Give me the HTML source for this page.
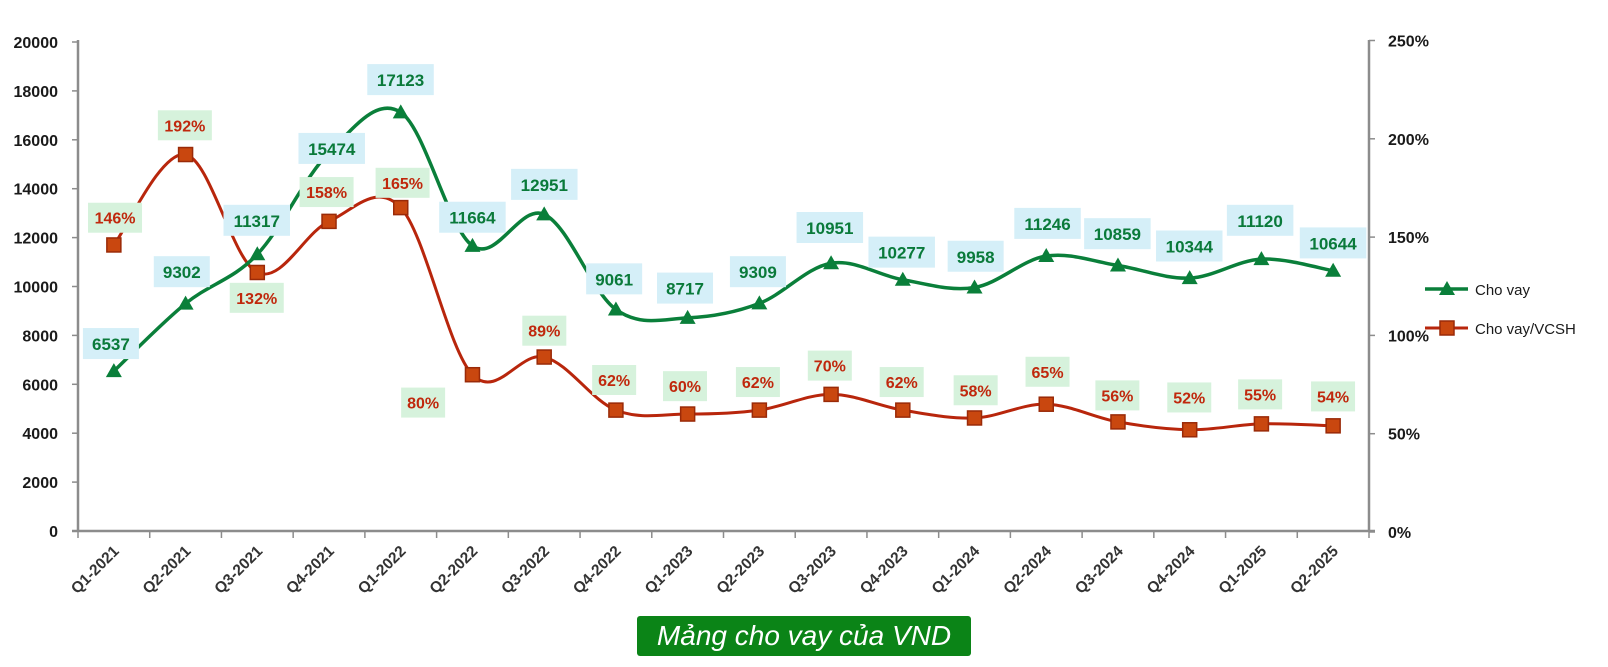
<!DOCTYPE html>
<html><head><meta charset="utf-8"><style>
html,body{margin:0;padding:0;background:#fff;}
svg{display:block;font-family:"Liberation Sans",sans-serif;}
</style></head><body>
<svg id="c" width="1608" height="667" xmlns="http://www.w3.org/2000/svg"></svg>
<script>
const svg=document.getElementById('c');
const X0=78,X1=1369,N=18,cw=(X1-X0)/N;
const cx=i=>X0+(i+0.5)*cw;
const yL=v=>531-v*0.02445;
const yR=p=>532-p*1.966;
const vals=[6537,9302,11317,15474,17123,11664,12951,9061,8717,9309,10951,10277,9958,11246,10859,10344,11120,10644];
const pcts=[146,192,132,158,165,80,89,62,60,62,70,62,58,65,56,52,55,54];
const cats=['Q1-2021','Q2-2021','Q3-2021','Q4-2021','Q1-2022','Q2-2022','Q3-2022','Q4-2022','Q1-2023','Q2-2023','Q3-2023','Q4-2023','Q1-2024','Q2-2024','Q3-2024','Q4-2024','Q1-2025','Q2-2025'];
let h='';
h+=`<line x1="${X0}" y1="40" x2="${X0}" y2="532" stroke="#8c8c8c" stroke-width="2.5"/>`;
h+=`<line x1="${X1}" y1="40" x2="${X1}" y2="532" stroke="#8c8c8c" stroke-width="2.5"/>`;
h+=`<line x1="${X0-6}" y1="531" x2="${X1+6}" y2="531" stroke="#8c8c8c" stroke-width="2.5"/>`;
for(let v=0;v<=20000;v+=2000){const y=yL(v);h+=`<line x1="${X0-6}" y1="${y}" x2="${X0}" y2="${y}" stroke="#8c8c8c" stroke-width="1.5"/><text x="58" y="${y+6}" text-anchor="end" font-size="16" font-weight="bold" fill="#1a1a1a">${v}</text>`;}
for(let p=0;p<=250;p+=50){const y=yR(p);h+=`<line x1="${X1}" y1="${y}" x2="${X1+6}" y2="${y}" stroke="#8c8c8c" stroke-width="1.5"/><text x="1388" y="${y+6}" font-size="16" font-weight="bold" fill="#1a1a1a">${p}%</text>`;}
for(let i=0;i<=N;i++){const x=X0+i*cw;h+=`<line x1="${x}" y1="531" x2="${x}" y2="538" stroke="#8c8c8c" stroke-width="1.5"/>`;}
cats.forEach((c,i)=>{const x=cx(i)+6,y=552;h+=`<text x="${x}" y="${y}" text-anchor="end" font-size="15.5" font-weight="bold" fill="#333" transform="rotate(-45 ${x} ${y})">${c}</text>`;});
function smooth(pts){let d=`M${pts[0][0]},${pts[0][1]}`;for(let i=0;i<pts.length-1;i++){const p0=pts[i-1]||pts[i],p1=pts[i],p2=pts[i+1],p3=pts[i+2]||p2;const t=0.17;const c1=[p1[0]+(p2[0]-p0[0])*t,p1[1]+(p2[1]-p0[1])*t],c2=[p2[0]-(p3[0]-p1[0])*t,p2[1]-(p3[1]-p1[1])*t];d+=` C${c1[0]},${c1[1]} ${c2[0]},${c2[1]} ${p2[0]},${p2[1]}`;}return d;}
const gp=vals.map((v,i)=>[cx(i),yL(v)]),rp=pcts.map((p,i)=>[cx(i),yR(p)]);
h+=`<path d="${smooth(rp)}" fill="none" stroke="#b8260c" stroke-width="3"/>`;
h+=`<path d="${smooth(gp)}" fill="none" stroke="#0a7f3a" stroke-width="3.5"/>`;
rp.forEach(p=>{h+=`<rect x="${p[0]-7}" y="${p[1]-7}" width="14" height="14" fill="#c9470f" stroke="#9a2a08" stroke-width="1.5"/>`;});
gp.forEach(p=>{h+=`<polygon points="${p[0]},${p[1]-8} ${p[0]+8},${p[1]+6} ${p[0]-8},${p[1]+6}" fill="#0a7f3a"/>`;});
const s=1.027;
const gl=[[108,335],[177,265],[250,215],[323,145],[390,78],[460,212],[530,180],[598,272],[667,281],[738,265],[808,222],[878,246],[950,250],[1020,218],[1088,228],[1158,240],[1227,215],[1298,237]];
const rl=[[112,212],[180,122],[250,290],[318,187],[392,178],[412,392],[530,322],[598,370],[667,376],[738,372],[808,356],[878,372],[950,380],[1020,362],[1088,385],[1158,387],[1227,384],[1298,386]];
gl.forEach((p,i)=>{const t=String(vals[i]);const w=t.length*10.5+14;const x=p[0]*s,y=p[1]*s;h+=`<rect x="${x-w/2}" y="${y-16}" width="${w}" height="31" fill="#d5eff8"/><text x="${x}" y="${y+6}" text-anchor="middle" font-size="17" font-weight="bold" fill="#0a7a3a">${t}</text>`;});
rl.forEach((p,i)=>{const t=pcts[i]+'%';const w=t.length*10+14;const x=p[0]*s,y=p[1]*s;h+=`<rect x="${x-w/2}" y="${y-15}" width="${w}" height="30" fill="#d6f2dc"/><text x="${x}" y="${y+6}" text-anchor="middle" font-size="16" font-weight="bold" fill="#c0280d">${t}</text>`;});
h+=`<line x1="1425" y1="289" x2="1468" y2="289" stroke="#0a7f3a" stroke-width="3.5"/><polygon points="1447,281 1455,295 1439,295" fill="#0a7f3a"/><text x="1475" y="295" font-size="15" fill="#1a1a1a">Cho vay</text>`;
h+=`<line x1="1425" y1="328" x2="1468" y2="328" stroke="#b8260c" stroke-width="3"/><rect x="1440" y="321" width="14" height="14" fill="#c9470f" stroke="#9a2a08" stroke-width="1.5"/><text x="1475" y="334" font-size="15" fill="#1a1a1a">Cho vay/VCSH</text>`;
h+=`<rect x="637" y="616" width="334" height="40" rx="3" fill="#0b8417"/><text x="804" y="645" text-anchor="middle" font-size="28" font-style="italic" fill="#fff">Mảng cho vay của VND</text>`;
svg.innerHTML=h;
</script>
</body></html>
